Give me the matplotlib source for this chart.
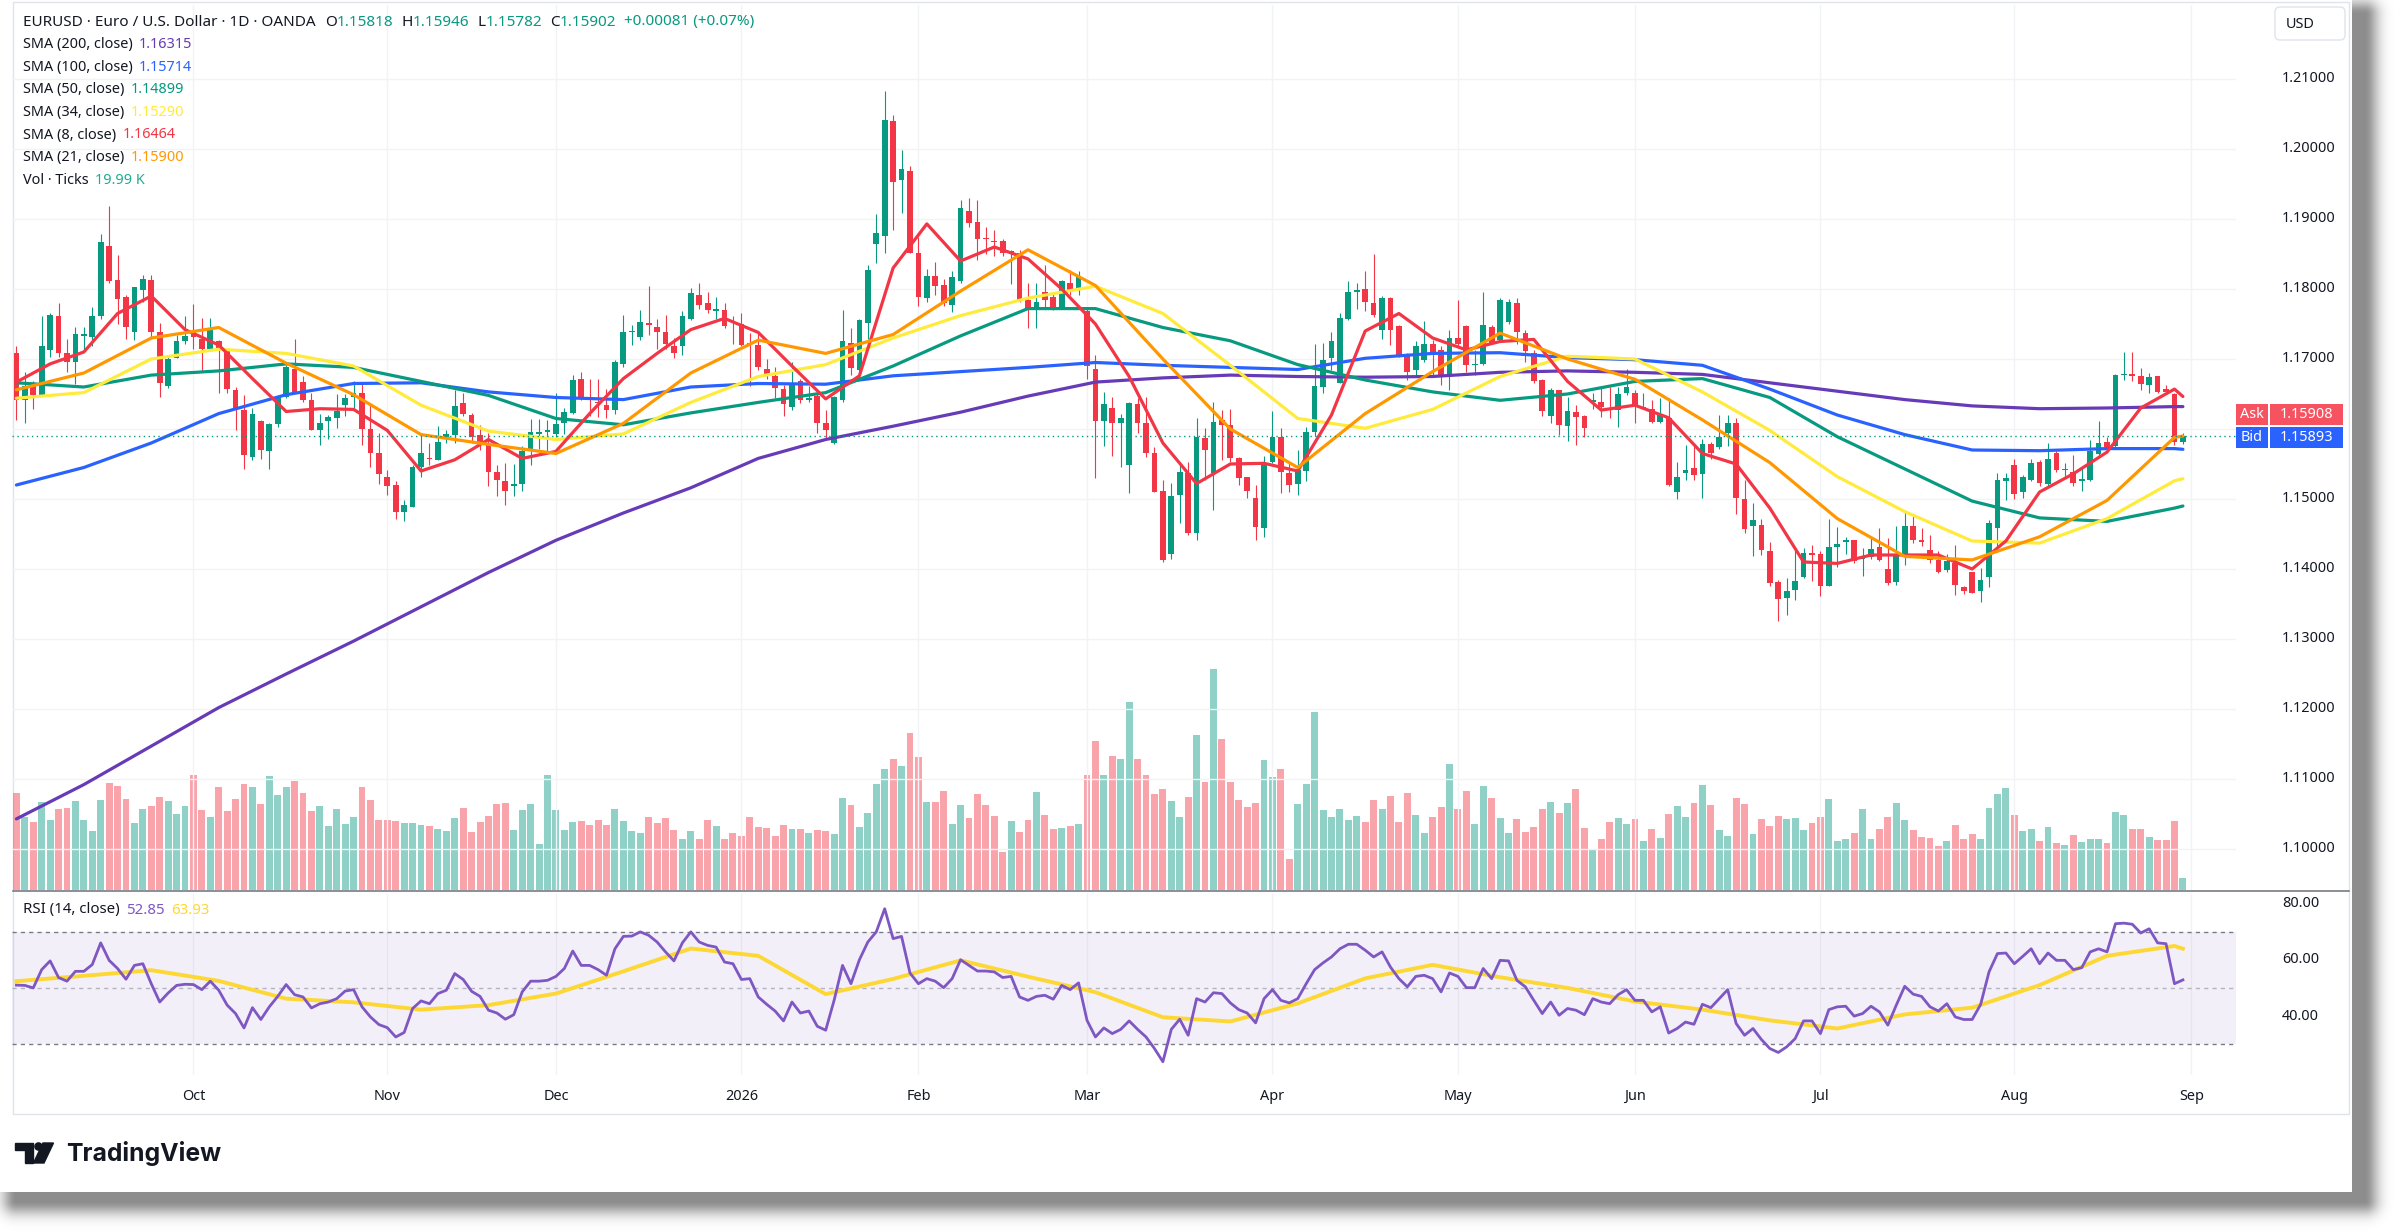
import numpy as np
import pandas as pd
import matplotlib
matplotlib.use("Agg")
import matplotlib.pyplot as plt
from matplotlib.patches import Rectangle, FancyBboxPatch, Polygon, Circle

plt.rcParams['font.family'] = ['Noto Sans', 'DejaVu Sans']

# trading days shown (forex daily, no Christmas / New Year bars)
dates = pd.bdate_range('2025-09-02', '2026-08-31')
dates = dates[~dates.isin(pd.to_datetime(['2025-12-25', '2026-01-01']))]

opens = [1.1709,1.1641,1.1661,1.1648,1.1713,1.1761,1.1709,1.1695,1.1733,1.1732,
 1.1761,1.1862,1.1813,1.1789,1.1738,1.1798,1.1813,1.1739,1.1661,1.1702,
 1.1726,1.1739,1.1729,1.1715,1.1726,1.1711,1.1656,1.1627,1.1560,1.1611,
 1.1569,1.1607,1.1645,1.1685,1.1667,1.1641,1.1599,1.1612,1.1615,1.1634,
 1.1645,1.1651,1.1600,1.1566,1.1531,1.1520,1.1482,1.1489,1.1546,1.1558,
 1.1556,1.1585,1.1592,1.1637,1.1620,1.1592,1.1580,1.1538,1.1526,1.1519,
 1.1522,1.1570,1.1593,1.1595,1.1593,1.1609,1.1623,1.1671,1.1645,1.1638,
 1.1634,1.1627,1.1693,1.1738,1.1732,1.1751,1.1746,1.1739,1.1719,1.1719,
 1.1757,1.1792,1.1780,1.1768,1.1770,1.1746,1.1750,1.1723,1.1720,1.1685,
 1.1675,1.1657,1.1632,1.1669,1.1642,1.1647,1.1608,1.1580,1.1642,1.1723,
 1.1684,1.1752,1.1864,1.1876,1.2040,1.1956,1.1969,1.1851,1.1787,1.1819,
 1.1805,1.1777,1.1811,1.1911,1.1895,1.1872,1.1869,1.1869,1.1851,1.1852,
 1.1784,1.1775,1.1796,1.1788,1.1774,1.1809,1.1798,1.1768,1.1685,1.1612,
 1.1630,1.1608,1.1548,1.1636,1.1608,1.1566,1.1511,1.1422,1.1506,1.1537,
 1.1451,1.1587,1.1537,1.1613,1.1606,1.1558,1.1532,1.1501,1.1458,1.1553,
 1.1589,1.1537,1.1522,1.1540,1.1595,1.1660,1.1701,1.1666,1.1757,1.1796,
 1.1800,1.1780,1.1741,1.1787,1.1747,1.1706,1.1684,1.1699,1.1721,1.1713,
 1.1678,1.1730,1.1747,1.1691,1.1693,1.1745,1.1727,1.1753,1.1780,1.1737,
 1.1709,1.1670,1.1618,1.1655,1.1604,1.1624,1.1618,1.1639,1.1639,1.1629,
 1.1627,1.1652,1.1652,1.1629,1.1629,1.1610,1.1615,1.1510,1.1537,1.1544,
 1.1536,1.1579,1.1574,1.1594,1.1609,1.1500,1.1461,1.1463,1.1426,1.1382,
 1.1359,1.1370,1.1388,1.1423,1.1421,1.1376,1.1431,1.1439,1.1441,1.1414,
 1.1417,1.1431,1.1400,1.1382,1.1420,1.1462,1.1441,1.1427,1.1413,1.1398,
 1.1409,1.1374,1.1395,1.1368,1.1389,1.1458,1.1525,1.1548,1.1510,1.1527,
 1.1553,1.1522,1.1566,1.1541,1.1539,1.1526,1.1527,1.1564,1.1582,1.1575,
 1.1677,1.1678,1.1676,1.1663,1.1676,1.1657,1.1650,1.15818]
highs = [1.1719,1.1682,1.1668,1.1761,1.1766,1.1780,1.1729,1.1746,1.1746,1.1774,
 1.1879,1.1919,1.1849,1.1791,1.1803,1.1820,1.1820,1.1752,1.1703,1.1734,
 1.1761,1.1778,1.1758,1.1759,1.1727,1.1713,1.1660,1.1649,1.1630,1.1613,
 1.1608,1.1646,1.1692,1.1729,1.1675,1.1651,1.1622,1.1620,1.1650,1.1650,
 1.1668,1.1664,1.1637,1.1594,1.1541,1.1525,1.1498,1.1549,1.1590,1.1580,
 1.1604,1.1598,1.1656,1.1652,1.1623,1.1606,1.1594,1.1549,1.1552,1.1550,
 1.1575,1.1614,1.1614,1.1613,1.1651,1.1630,1.1677,1.1682,1.1671,1.1671,
 1.1657,1.1699,1.1763,1.1749,1.1770,1.1804,1.1757,1.1763,1.1730,1.1769,
 1.1801,1.1809,1.1796,1.1789,1.1780,1.1761,1.1765,1.1737,1.1737,1.1700,
 1.1689,1.1663,1.1696,1.1671,1.1662,1.1652,1.1627,1.1647,1.1770,1.1744,
 1.1757,1.1834,1.1907,1.2083,1.2049,1.1998,1.1976,1.1875,1.1829,1.1838,
 1.1815,1.1825,1.1927,1.1930,1.1927,1.1889,1.1884,1.1872,1.1856,1.1856,
 1.1808,1.1808,1.1834,1.1794,1.1813,1.1827,1.1826,1.1775,1.1706,1.1653,
 1.1646,1.1622,1.1639,1.1644,1.1646,1.1574,1.1527,1.1523,1.1551,1.1553,
 1.1615,1.1601,1.1639,1.1627,1.1629,1.1560,1.1532,1.1520,1.1561,1.1626,
 1.1601,1.1551,1.1570,1.1603,1.1721,1.1723,1.1739,1.1765,1.1812,1.1808,
 1.1825,1.1850,1.1790,1.1789,1.1748,1.1708,1.1725,1.1755,1.1727,1.1718,
 1.1742,1.1784,1.1748,1.1713,1.1796,1.1748,1.1787,1.1785,1.1787,1.1741,
 1.1713,1.1672,1.1658,1.1656,1.1646,1.1634,1.1620,1.1651,1.1660,1.1660,
 1.1660,1.1685,1.1655,1.1651,1.1641,1.1644,1.1644,1.1553,1.1577,1.1575,
 1.1585,1.1582,1.1620,1.1620,1.1615,1.1527,1.1494,1.1472,1.1438,1.1384,
 1.1387,1.1430,1.1430,1.1434,1.1425,1.1471,1.1460,1.1445,1.1442,1.1430,
 1.1446,1.1458,1.1444,1.1461,1.1482,1.1475,1.1458,1.1449,1.1426,1.1422,
 1.1434,1.1375,1.1396,1.1402,1.1470,1.1537,1.1537,1.1557,1.1534,1.1557,
 1.1556,1.1580,1.1568,1.1551,1.1563,1.1544,1.1584,1.1612,1.1588,1.1679,
 1.1710,1.1710,1.1687,1.1680,1.1676,1.1663,1.1652,1.15946]
lows = [1.1613,1.1609,1.1629,1.1647,1.1703,1.1703,1.1682,1.1664,1.1713,1.1718,
 1.1757,1.1808,1.1750,1.1729,1.1727,1.1781,1.1729,1.1646,1.1658,1.1701,
 1.1722,1.1715,1.1683,1.1713,1.1652,1.1652,1.1599,1.1543,1.1556,1.1557,
 1.1543,1.1603,1.1644,1.1651,1.1638,1.1598,1.1577,1.1585,1.1601,1.1618,
 1.1627,1.1577,1.1546,1.1522,1.1505,1.1472,1.1469,1.1488,1.1531,1.1549,
 1.1555,1.1580,1.1580,1.1618,1.1580,1.1570,1.1519,1.1504,1.1492,1.1504,
 1.1512,1.1549,1.1571,1.1569,1.1589,1.1593,1.1622,1.1642,1.1618,1.1617,
 1.1615,1.1622,1.1689,1.1720,1.1727,1.1734,1.1715,1.1714,1.1701,1.1706,
 1.1756,1.1772,1.1765,1.1757,1.1744,1.1722,1.1718,1.1661,1.1684,1.1671,
 1.1644,1.1618,1.1627,1.1637,1.1638,1.1594,1.1584,1.1578,1.1639,1.1677,
 1.1670,1.1728,1.1837,1.1852,1.1884,1.1908,1.1851,1.1776,1.1781,1.1791,
 1.1776,1.1767,1.1809,1.1888,1.1841,1.1850,1.1847,1.1847,1.1807,1.1782,
 1.1744,1.1744,1.1772,1.1770,1.1771,1.1792,1.1792,1.1672,1.1530,1.1576,
 1.1561,1.1546,1.1508,1.1594,1.1560,1.1510,1.1410,1.1414,1.1466,1.1449,
 1.1442,1.1527,1.1484,1.1556,1.1553,1.1520,1.1501,1.1442,1.1446,1.1551,
 1.1509,1.1510,1.1506,1.1525,1.1590,1.1651,1.1684,1.1665,1.1756,1.1772,
 1.1768,1.1760,1.1729,1.1720,1.1703,1.1670,1.1676,1.1696,1.1676,1.1663,
 1.1656,1.1718,1.1682,1.1677,1.1691,1.1721,1.1725,1.1750,1.1722,1.1696,
 1.1666,1.1618,1.1609,1.1591,1.1583,1.1577,1.1588,1.1629,1.1617,1.1615,
 1.1603,1.1648,1.1609,1.1628,1.1609,1.1608,1.1518,1.1500,1.1527,1.1527,
 1.1502,1.1557,1.1572,1.1575,1.1479,1.1451,1.1418,1.1420,1.1375,1.1325,
 1.1334,1.1356,1.1387,1.1383,1.1361,1.1375,1.1403,1.1422,1.1409,1.1390,
 1.1414,1.1412,1.1377,1.1377,1.1406,1.1437,1.1433,1.1408,1.1394,1.1396,
 1.1363,1.1364,1.1365,1.1353,1.1374,1.1432,1.1499,1.1500,1.1502,1.1525,
 1.1518,1.1518,1.1539,1.1532,1.1519,1.1512,1.1525,1.1563,1.1568,1.1574,
 1.1670,1.1669,1.1656,1.1652,1.1651,1.1650,1.1577,1.15782]
closes = [1.1641,1.1661,1.1649,1.1718,1.1763,1.1709,1.1695,1.1736,1.1735,1.1761,
 1.1867,1.1812,1.1786,1.1746,1.1803,1.1814,1.1738,1.1665,1.1700,1.1726,
 1.1733,1.1731,1.1715,1.1743,1.1714,1.1657,1.1627,1.1563,1.1622,1.1570,
 1.1607,1.1645,1.1688,1.1651,1.1641,1.1599,1.1609,1.1617,1.1625,1.1644,
 1.1652,1.1600,1.1565,1.1535,1.1518,1.1482,1.1491,1.1546,1.1565,1.1557,
 1.1582,1.1593,1.1633,1.1621,1.1589,1.1580,1.1538,1.1527,1.1512,1.1522,
 1.1569,1.1595,1.1595,1.1598,1.1607,1.1624,1.1670,1.1644,1.1643,1.1637,
 1.1627,1.1695,1.1738,1.1740,1.1753,1.1748,1.1739,1.1722,1.1709,1.1761,
 1.1794,1.1777,1.1770,1.1772,1.1747,1.1745,1.1720,1.1721,1.1688,1.1675,
 1.1658,1.1636,1.1666,1.1642,1.1644,1.1609,1.1598,1.1645,1.1726,1.1687,
 1.1755,1.1827,1.1880,1.2041,1.1953,1.1971,1.1851,1.1789,1.1819,1.1804,
 1.1780,1.1817,1.1915,1.1895,1.1871,1.1871,1.1867,1.1851,1.1854,1.1783,
 1.1771,1.1782,1.1784,1.1774,1.1811,1.1798,1.1817,1.1690,1.1612,1.1636,
 1.1608,1.1615,1.1637,1.1608,1.1566,1.1510,1.1413,1.1504,1.1539,1.1451,
 1.1589,1.1570,1.1610,1.1606,1.1558,1.1530,1.1512,1.1460,1.1552,1.1589,
 1.1539,1.1520,1.1542,1.1596,1.1661,1.1699,1.1725,1.1758,1.1796,1.1799,
 1.1782,1.1763,1.1787,1.1742,1.1706,1.1682,1.1718,1.1721,1.1710,1.1676,
 1.1730,1.1721,1.1691,1.1692,1.1749,1.1723,1.1784,1.1782,1.1739,1.1712,
 1.1669,1.1625,1.1656,1.1606,1.1625,1.1617,1.1601,1.1641,1.1631,1.1627,
 1.1650,1.1660,1.1634,1.1631,1.1610,1.1622,1.1520,1.1531,1.1542,1.1534,
 1.1579,1.1565,1.1589,1.1608,1.1501,1.1457,1.1470,1.1427,1.1380,1.1357,
 1.1369,1.1383,1.1423,1.1420,1.1376,1.1432,1.1436,1.1441,1.1412,1.1415,
 1.1428,1.1413,1.1380,1.1420,1.1462,1.1441,1.1438,1.1413,1.1396,1.1411,
 1.1377,1.1369,1.1366,1.1384,1.1465,1.1527,1.1530,1.1507,1.1532,1.1552,
 1.1523,1.1557,1.1541,1.1542,1.1523,1.1528,1.1569,1.1580,1.1574,1.1677,
 1.1679,1.1675,1.1664,1.1674,1.1653,1.1653,1.1581,1.15902]

# volume, thousands of ticks
volume = [161.5,122.1,112.7,146.0,117.1,135.4,137.1,147.6,116.0,98.8,
 149.3,178.2,173.2,152.1,111.6,134.3,140.4,155.4,147.6,126.5,
 140.4,192.0,133.2,122.1,171.5,132.1,152.1,176.5,171.5,143.2,
 189.8,158.2,171.5,180.9,161.5,131.0,139.9,107.1,135.4,109.9,
 122.1,172.1,150.4,117.1,117.1,114.3,111.6,111.6,108.8,107.1,
 102.1,97.7,120.4,137.1,96.6,113.2,123.8,143.2,144.9,99.3,
 132.6,143.2,77.1,191.5,133.8,100.5,112.7,114.9,107.7,117.1,
 107.7,135.4,114.3,97.7,94.9,122.1,111.6,120.4,100.5,84.9,
 98.2,84.9,116.0,107.1,84.9,94.9,90.5,121.0,105.5,103.8,
 90.5,108.8,101.6,102.1,94.9,99.9,98.2,93.8,152.6,142.1,
 105.5,128.2,176.5,202.0,218.7,207.0,261.4,222.0,146.5,146.5,
 164.8,110.4,142.1,120.4,159.8,142.1,123.8,63.3,114.9,96.6,
 116.0,163.2,125.4,102.1,103.8,107.1,109.9,192.0,248.1,192.0,
 223.7,217.6,313.0,217.6,192.0,160.4,168.7,148.2,122.1,155.4,
 258.6,179.8,368.0,252.0,179.8,149.3,138.8,144.9,215.9,188.7,
 202.0,52.2,143.2,177.0,296.4,133.8,122.1,135.4,117.1,123.8,
 113.2,149.3,135.4,156.5,113.2,161.5,125.4,94.9,122.1,138.8,
 209.8,135.4,164.3,110.4,173.7,152.6,120.4,94.9,118.8,96.6,
 105.5,134.3,146.5,128.2,144.9,167.6,103.8,66.0,85.5,113.2,
 120.4,109.9,118.8,81.6,102.1,86.6,127.1,140.4,122.1,144.9,
 175.4,142.1,100.5,90.5,152.6,143.7,93.8,117.7,107.1,123.8,
 118.8,120.4,99.3,111.6,122.1,151.0,81.6,84.4,94.9,135.4,
 84.4,102.1,122.1,144.9,116.0,99.3,88.8,87.1,73.8,81.6,
 108.8,85.5,93.8,84.4,137.1,160.4,169.3,125.4,98.2,102.1,
 81.6,105.5,78.3,75.5,92.1,79.9,84.4,85.5,78.3,129.9,
 125.4,101.0,101.0,88.2,82.7,82.7,114.9,19.99]

rsi = [51.0,50.9,50.0,56.5,59.6,53.7,52.4,55.9,55.9,58.3,
 66.0,59.8,56.9,53.1,58.0,58.6,51.5,45.0,48.2,50.9,
 51.3,51.2,49.4,52.4,49.2,43.9,40.9,35.8,43.0,38.8,
 43.3,47.0,51.2,47.6,46.8,42.9,44.4,45.0,46.2,48.9,
 49.4,43.3,39.7,37.0,35.9,32.6,34.2,42.7,45.4,44.4,
 48.0,49.2,55.1,53.0,48.8,47.0,42.1,41.1,38.9,40.5,
 48.6,52.4,52.4,52.7,54.1,56.9,63.1,58.0,58.0,56.5,
 54.5,63.9,68.3,68.4,69.9,68.7,66.3,62.8,59.6,66.0,
 69.9,66.3,65.1,64.5,59.2,58.6,53.0,53.3,46.8,44.2,
 41.8,38.3,45.0,41.1,41.8,36.4,35.0,45.6,58.0,51.5,
 60.0,66.3,69.9,78.1,67.5,68.3,55.3,51.5,53.3,52.4,
 50.1,53.3,60.0,58.0,56.0,56.0,55.7,53.7,54.1,46.8,
 45.6,47.0,47.4,46.0,50.9,49.4,51.8,38.5,32.6,35.8,
 33.8,35.3,38.3,35.3,32.6,28.5,23.8,35.3,38.9,33.2,
 46.2,45.0,48.3,48.0,44.7,42.3,41.1,37.6,46.2,49.4,
 45.6,44.7,46.2,51.5,56.5,58.9,61.0,63.9,65.5,65.5,
 63.4,61.0,62.8,57.4,53.3,50.4,54.1,54.5,53.3,48.6,
 55.3,54.1,50.1,50.1,56.9,53.3,59.8,59.6,52.7,50.4,
 45.6,40.9,45.0,40.3,42.7,42.1,40.5,46.2,45.0,44.4,
 47.6,49.4,45.6,45.6,41.5,43.3,34.0,35.6,37.9,37.1,
 44.2,43.0,46.2,49.4,37.4,33.2,35.6,31.7,28.5,27.1,
 29.1,32.0,38.3,38.3,33.8,42.3,43.3,43.5,40.0,40.9,
 43.5,41.5,36.8,43.9,50.6,47.8,47.0,43.3,41.8,44.4,
 39.7,38.8,38.8,44.1,55.7,62.2,62.4,58.6,61.2,63.9,
 58.6,62.4,59.8,59.8,56.5,57.2,62.8,63.9,62.8,72.8,
 73.0,72.6,69.5,71.0,66.0,65.7,51.5,52.85]

# moving averages read every 4th (SMA 8) or 8th bar, plus the last bar
sma8 = [1.1667,1.1693,1.1710,1.1765,1.1790,1.1742,1.1720,1.1672,1.1625,1.1629,
 1.1628,1.1598,1.1540,1.1556,1.1585,1.1558,1.1568,1.1622,1.1672,1.1708,
 1.1742,1.1758,1.1738,1.1690,1.1643,1.1676,1.1830,1.1893,1.1840,1.1860,
 1.1843,1.1800,1.1750,1.1675,1.1580,1.1522,1.1550,1.1551,1.1540,1.1620,
 1.1740,1.1765,1.1730,1.1713,1.1725,1.1728,1.1668,1.1627,1.1634,1.1616,
 1.1565,1.1550,1.1487,1.1410,1.1408,1.1420,1.1420,1.1420,1.1400,1.1440,
 1.1510,1.1536,1.1567,1.1630,1.1657,1.16464]
sma21 = [1.1656,1.1680,1.1730,1.1745,1.1694,1.1649,1.1592,1.1578,1.1565,1.1608,
 1.1680,1.1727,1.1708,1.1735,1.1797,1.1856,1.1805,1.1700,1.1600,1.1545,
 1.1622,1.1682,1.1737,1.1700,1.1671,1.1613,1.1552,1.1472,1.1418,1.1413,
 1.1446,1.1498,1.1588,1.1590]
sma34 = [1.1644,1.1652,1.1700,1.1714,1.1708,1.1690,1.1634,1.1597,1.1585,1.1593,
 1.1638,1.1675,1.1692,1.1730,1.1762,1.1787,1.1804,1.1765,1.1691,1.1615,
 1.1601,1.1628,1.1675,1.1704,1.1700,1.1653,1.1598,1.1532,1.1482,1.1440,
 1.1437,1.1472,1.1526,1.1529]
sma50 = [1.1666,1.1660,1.1677,1.1683,1.1693,1.1688,1.1668,1.1648,1.1615,1.1606,
 1.1623,1.1638,1.1652,1.1690,1.1733,1.1772,1.1772,1.1745,1.1726,1.1692,
 1.1670,1.1653,1.1641,1.1650,1.1668,1.1672,1.1645,1.1589,1.1543,1.1497,
 1.1473,1.1468,1.1487,1.1490]
sma100 = [1.1520,1.1545,1.1580,1.1622,1.1649,1.1665,1.1666,1.1653,1.1645,1.1642,
 1.1660,1.1665,1.1664,1.1676,1.1682,1.1688,1.1695,1.1691,1.1688,1.1685,
 1.1701,1.1708,1.1709,1.1702,1.1699,1.1691,1.1657,1.1620,1.1592,1.1570,
 1.1569,1.1572,1.1572,1.1571]
sma200 = [1.1043,1.1092,1.1147,1.1202,1.1250,1.1297,1.1346,1.1395,1.1441,1.1480,
 1.1516,1.1558,1.1585,1.1604,1.1624,1.1647,1.1667,1.1673,1.1677,1.1675,
 1.1674,1.1675,1.1681,1.1683,1.1681,1.1678,1.1666,1.1654,1.1642,1.1633,
 1.1629,1.1630,1.1632,1.1632]
rsi_ma = [52.4,54.3,56.3,52.5,46.2,44.9,42.3,43.9,48.0,55.9,
 64.0,61.4,47.8,53.2,59.8,54.0,48.5,39.6,38.1,44.5,
 53.4,58.2,53.8,50.0,45.2,42.3,38.5,35.6,40.6,43.0,
 51.0,61.4,64.9,63.93]

# 1.16 label sits under the ask/bid tags, so it is not drawn
price_ticks = [1.10, 1.11, 1.12, 1.13, 1.14, 1.15, 1.16, 1.17, 1.18, 1.19, 1.20, 1.21]
price_labels = [1.10, 1.11, 1.12, 1.13, 1.14, 1.15, 1.17, 1.18, 1.19, 1.20, 1.21]
rsi_ticks = [80, 60, 40]
ask, bid = 1.15908, 1.15893

UP, DOWN = '#089981', '#F23645'
INK = '#131722'
W, H = 2400, 1231
FS = 10.4

n = len(closes)
x = np.arange(n)
x4 = np.r_[np.arange(0, n - 1, 4), n - 1]
x8 = np.r_[np.arange(0, n - 1, 8), n - 1]
o = np.array(opens); c = np.array(closes)
up = c >= o
col = np.where(up, UP, DOWN)

fig = plt.figure(figsize=(24, 12.31), dpi=100)

# card, shadow, frame (pixel coordinates)
bg = fig.add_axes([0, 0, 1, 1], zorder=-5)
bg.set_xlim(0, W); bg.set_ylim(H, 0); bg.axis('off')
yy, xx = np.mgrid[0:H, 0:W]
sx0, sy0, sx1, sy1 = 16, 14, 2352 + 12, 1192 + 8
dx = np.maximum(np.maximum(sx0 - xx, xx - sx1), 0)
dy = np.maximum(np.maximum(sy0 - yy, yy - sy1), 0)
a = 0.45 * np.exp(-((np.hypot(dx, dy)) / 14.0) ** 2)
shadow = np.zeros((H, W, 4)); shadow[..., 3] = a
bg.imshow(shadow, extent=(0, W, H, 0), zorder=0, interpolation='bilinear')
bg.add_patch(Rectangle((0, 0), 2352, 1192, facecolor='white', edgecolor='none', zorder=1))
bg.add_patch(Rectangle((12.5, 2), 2349 - 12.5, 1114 - 2, fill=False, edgecolor='#E0E3EB', lw=1, zorder=2))
bg.plot([12.5, 2349], [890.5, 890.5], color='#787B86', lw=1.2, zorder=2)

x_lo, x_hi = (12 - 16.4) / 8.43, (2236 - 16.4) / 8.43
p_lo, p_hi = 1.21 - (890 - 79) / 7000, 1.21 + (79 - 5) / 7000

vax = fig.add_axes([12 / W, 1 - 890 / H, 2224 / W, 885 / H], zorder=1)
ax = fig.add_axes([12 / W, 1 - 890 / H, 2224 / W, 885 / H], zorder=2)
rax = fig.add_axes([12 / W, 1 - 1075 / H, 2224 / W, 182 / H], zorder=2)
for a_ in (vax, ax, rax):
    a_.set_xlim(x_lo, x_hi)
    a_.patch.set_visible(False)
    for s in a_.spines.values():
        s.set_visible(False)
    a_.set_xticks([]); a_.set_yticks([])
ax.set_ylim(p_lo, p_hi)
vax.set_ylim(0, 885 * 1.665)
rax.set_ylim(19.1, 83.7)

# month grid + labels
month_pos, month_lab = [], []
for i in range(1, n):
    if dates[i].month != dates[i - 1].month:
        month_pos.append(i)
        month_lab.append('2026' if dates[i].month == 1 else dates[i].strftime('%b'))
month_pos.append(n); month_lab.append('Sep')
for p in month_pos:
    ax.axvline(p, color='#F2F3F6', lw=1, zorder=0)
    rax.axvline(p, color='#F2F3F6', lw=1, zorder=0)
for p in price_ticks:
    ax.axhline(p, color='#F2F3F6', lw=1, zorder=0)
for p, lab in zip(month_pos, month_lab):
    rax.text(p, -0.12, lab, transform=rax.get_xaxis_transform(), ha='center', va='center',
             fontsize=FS, color=INK)

# volume
vax.bar(x, volume, width=0.82, color=col, alpha=0.45, linewidth=0)

# candles
ax.vlines(x, lows, highs, colors=col, lw=0.8, zorder=2)
body = np.maximum(np.abs(c - o), 0.00012)
ax.bar(x, body, bottom=np.minimum(o, c), width=0.68, color=col, linewidth=0, zorder=2)

# moving averages
ax.plot(x8, sma200, color='#673AB7', lw=2.3, zorder=3, solid_capstyle='round')
ax.plot(x8, sma100, color='#2962FF', lw=2.3, zorder=4, solid_capstyle='round')
ax.plot(x8, sma50, color='#089981', lw=2.3, zorder=5, solid_capstyle='round')
ax.plot(x8, sma34, color='#FFEB3B', lw=2.3, zorder=6, solid_capstyle='round')
ax.plot(x4, sma8, color='#F23645', lw=2.3, zorder=7, solid_capstyle='round')
ax.plot(x8, sma21, color='#FF9800', lw=2.3, zorder=8, solid_capstyle='round')
ax.axhline(closes[-1], color=UP, lw=1, ls=(0, (1, 2.5)), zorder=9)

# RSI pane
rax.axhspan(30, 70, color='#7E57C2', alpha=0.09, lw=0)
rax.axhline(70, color='#787B86', lw=1, ls=(0, (3, 3)))
rax.axhline(30, color='#787B86', lw=1, ls=(0, (3, 3)))
rax.axhline(50, color='#B2B5BE', lw=1, ls=(0, (3, 3)))
rax.plot(x, rsi, color='#7E57C2', lw=2.0, zorder=4)
rax.plot(x8, rsi_ma, color='#FDD835', lw=2.8, zorder=3)

# price scale
for p in price_labels:
    ax.text(1 + (2282 - 2236) / 2224, p, f'{p:.5f}', transform=ax.get_yaxis_transform(),
            ha='left', va='center', fontsize=FS, color=INK, clip_on=False)
for p in rsi_ticks:
    rax.text(1 + (2282 - 2236) / 2224, p, f'{p:.2f}', transform=rax.get_yaxis_transform(),
             ha='left', va='center', fontsize=FS, color=INK, clip_on=False)

# ask / bid tags
for lab, val, y0, fc in (('Ask', ask, 404, '#F7525F'), ('Bid', bid, 427, '#2962FF')):
    bg.add_patch(Rectangle((2236, y0), 32, 21, facecolor=fc, edgecolor='none', zorder=3))
    bg.add_patch(Rectangle((2270, y0), 73, 21, facecolor=fc, edgecolor='none', zorder=3))
    bg.text(2252, y0 + 10.5, lab, ha='center', va='center', color='white', fontsize=FS, zorder=4)
    bg.text(2306.5, y0 + 10.5, f'{val:.5f}', ha='center', va='center', color='white', fontsize=FS, zorder=4)

bg.add_patch(FancyBboxPatch((2275, 7), 70, 33, boxstyle='round,pad=0,rounding_size=5',
                            facecolor='white', edgecolor='#E0E3EB', lw=1, zorder=3))
bg.text(2300, 24, 'USD', ha='center', va='center', fontsize=FS, color=INK, zorder=4)

# legend
lg = fig.add_axes([0, 0, 1, 1], zorder=10)
lg.set_xlim(0, W); lg.set_ylim(H, 0); lg.axis('off')


def chain(x0, y0, parts, size=FS):
    t = lg.text(x0, y0, parts[0][0], color=parts[0][1], fontsize=size, va='center', ha='left')
    for s, cc, gap in parts[1:]:
        t = lg.annotate(s, xy=(1, 0.5), xycoords=t, xytext=(gap, 0), textcoords='offset points',
                        color=cc, fontsize=size, va='center', ha='left')


G = '#089981'
chain(23, 22, [('EURUSD · Euro / U.S. Dollar · 1D · OANDA', INK), ('O', INK, 6.5), ('1.15818', G, 0.3),
               ('H', INK, 5.5), ('1.15946', G, 0.3), ('L', INK, 5.5), ('1.15782', G, 0.3),
               ('C', INK, 5.5), ('1.15902', G, 0.3), ('+0.00081 (+0.07%)', G, 5.5)], size=11.0)
legend_rows = [('SMA (200, close)', '1.16315', '#673AB7'),
               ('SMA (100, close)', '1.15714', '#2962FF'),
               ('SMA (50, close)', '1.14899', '#089981'),
               ('SMA (34, close)', '1.15290', '#FFEB3B'),
               ('SMA (8, close)', '1.16464', '#F23645'),
               ('SMA (21, close)', '1.15900', '#FF9800'),
               ('Vol · Ticks', '19.99 K', '#22AB94')]
for i, (name, val, cc) in enumerate(legend_rows):
    chain(23, 44.6 + 22.6 * i, [(name, INK), (val, cc, 4.5)])
chain(23, 910, [('RSI (14, close)', INK), ('52.85', '#7E57C2', 4.5), ('63.93', '#FDD835', 4.5)], size=10.8)

# TradingView logo
lg.add_patch(Polygon([(15, 1143), (33, 1143), (33, 1163), (25, 1163), (25, 1150), (15, 1150)],
                     closed=True, color=INK))
lg.add_patch(Circle((38.5, 1146.5), 3.6, color=INK))
lg.add_patch(Polygon([(43, 1143), (53.5, 1143), (44, 1163), (33.5, 1163)], closed=True, color=INK))
lg.text(66, 1154, 'TradingView', fontsize=17.8, fontweight='bold', family=['Inter', 'DejaVu Sans'],
        color=INK, va='center', ha='left')

fig.savefig('out.png', dpi=100, facecolor='white')
